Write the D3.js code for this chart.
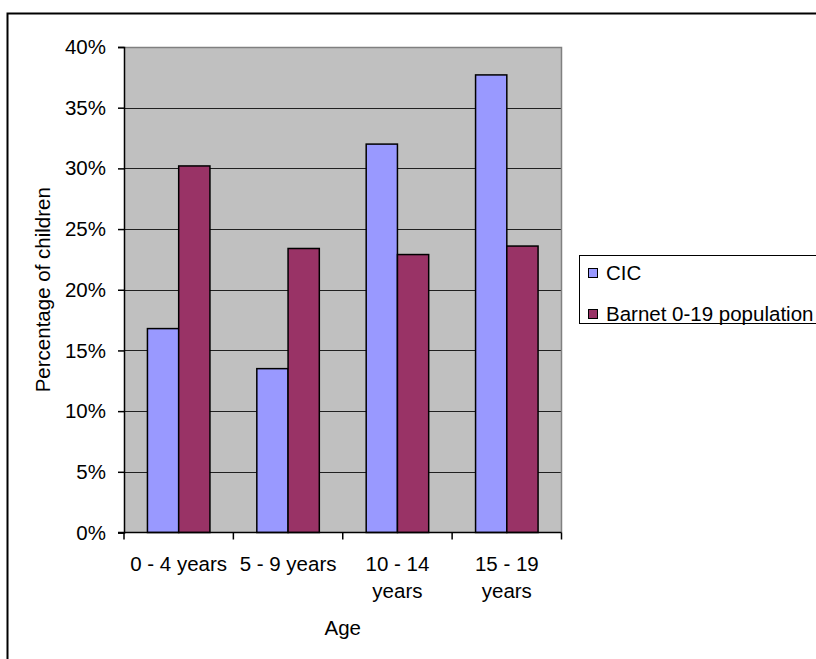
<!DOCTYPE html>
<html>
<head>
<meta charset="utf-8">
<script src="https://cdn.jsdelivr.net/npm/d3@7"></script>
<style>
  html, body { margin: 0; padding: 0; background: #fff; }
  svg { display: block; }
  text { font-family: "Liberation Sans", Arial, sans-serif; fill: #000; }
</style>
</head>
<body>
<svg id="chart" width="816" height="659"></svg>
<script>
// Age bands and the share of children in each
const categories = ["0 - 4 years", "5 - 9 years", "10 - 14 years", "15 - 19 years"];
const seriesNames = ["CIC", "Barnet 0-19 population"];
const cicValues = [16.8, 13.5, 32.0, 37.7];
const barnetValues = [30.2, 23.4, 22.9, 23.6];
const yTicks = [0, 5, 10, 15, 20, 25, 30, 35, 40];
const seriesColors = ["#9999FF", "#993366"];

const svg = d3.select("#chart");
const W = 816, H = 659;
const fontSize = 20.5;

// outer chart frame (runs off the right and bottom edges)
svg.append("rect")
  .attr("x", 7.5).attr("y", 13.5)
  .attr("width", W + 10).attr("height", H + 10)
  .attr("fill", "#fff").attr("stroke", "#000").attr("stroke-width", 2);

const plot = { left: 124, top: 47, right: 561.5, bottom: 532.5 };

const x0 = d3.scaleBand().domain(categories).range([plot.left, plot.right]).paddingInner(0).paddingOuter(0);
const y = d3.scaleLinear().domain([0, 40]).range([plot.bottom, plot.top]);

// plot background
svg.append("rect")
  .attr("x", plot.left).attr("y", plot.top)
  .attr("width", plot.right - plot.left).attr("height", plot.bottom - plot.top)
  .attr("fill", "#C0C0C0");

// horizontal gridlines
svg.append("g").selectAll("line")
  .data(yTicks.filter(d => d > 0))
  .join("line")
  .attr("x1", plot.left).attr("x2", plot.right)
  .attr("y1", d => Math.round(y(d)) + 0.5).attr("y2", d => Math.round(y(d)) + 0.5)
  .attr("stroke", "#202020").attr("stroke-width", 1.2);

// plot frame (top/right grey)
svg.append("path")
  .attr("d", `M${plot.left},${plot.top + 0.5}H${plot.right}V${plot.bottom}`)
  .attr("fill", "none").attr("stroke", "#808080").attr("stroke-width", 1.5);

// bars: two per group, Excel-style 150% gap
const rows = categories.map((c, i) => ({ cat: c, values: [cicValues[i], barnetValues[i]] }));
const bw = x0.bandwidth() / 3.5;
const x1 = d3.scaleBand().domain(seriesNames).range([0.75 * bw, 2.75 * bw]);

const groups = svg.append("g").selectAll("g")
  .data(rows).join("g")
  .attr("transform", d => `translate(${x0(d.cat)},0)`);

groups.selectAll("rect")
  .data(d => d.values.map((v, j) => ({ name: seriesNames[j], v, j })))
  .join("rect")
  .attr("x", d => x1(d.name))
  .attr("y", d => y(d.v))
  .attr("width", x1.bandwidth())
  .attr("height", d => y(0) - y(d.v))
  .attr("fill", d => seriesColors[d.j])
  .attr("stroke", "#000").attr("stroke-width", 1.5);

// y axis
const yAxis = d3.axisLeft(y).tickValues(yTicks).tickFormat(d => d + "%").tickSize(6).tickPadding(12);
const gy = svg.append("g").attr("transform", `translate(${plot.left},0)`).call(yAxis);
gy.select(".domain").attr("stroke", "#000").attr("stroke-width", 1.5);
gy.selectAll(".tick line").attr("stroke", "#000").attr("stroke-width", 1.5);
gy.selectAll(".tick text").attr("font-size", fontSize).attr("font-family", "Liberation Sans, Arial, sans-serif").attr("fill", "#000");

// x axis with ticks at category boundaries
const gx = svg.append("g").attr("transform", `translate(0,${plot.bottom})`);
gx.append("line").attr("x1", plot.left - 6).attr("x2", plot.right)
  .attr("stroke", "#000").attr("stroke-width", 1.5);
const bounds = categories.map(c => x0(c)).concat([x0(categories[categories.length - 1]) + x0.bandwidth()]);
gx.selectAll("line.tk").data(bounds).join("line").attr("class", "tk")
  .attr("x1", d => d).attr("x2", d => d).attr("y1", 0).attr("y2", 7)
  .attr("stroke", "#000").attr("stroke-width", 1.5);

// category labels, wrapped to the band width
const labels = gx.selectAll("text.cat").data(categories).join("text").attr("class", "cat")
  .attr("x", d => x0(d) + x0.bandwidth() / 2)
  .attr("y", 38)
  .attr("text-anchor", "middle")
  .attr("font-size", fontSize);
labels.each(function (d) {
  const t = d3.select(this);
  const cx = x0(d) + x0.bandwidth() / 2;
  t.text(d);
  if (this.getComputedTextLength() > x0.bandwidth()) {
    const words = d.split(" ");
    const last = words.pop();
    t.text(null);
    t.append("tspan").attr("x", cx).attr("dy", 0).text(words.join(" "));
    t.append("tspan").attr("x", cx).attr("dy", 27).text(last);
  }
});

// axis titles
svg.append("text")
  .attr("x", (plot.left + plot.right) / 2).attr("y", 635)
  .attr("text-anchor", "middle").attr("font-size", fontSize).text("Age");
svg.append("text")
  .attr("transform", `translate(50,${(plot.top + plot.bottom) / 2}) rotate(-90)`)
  .attr("text-anchor", "middle").attr("font-size", fontSize).text("Percentage of children");

// legend
const legend = svg.append("g");
legend.append("rect")
  .attr("x", 579.5).attr("y", 255.5).attr("width", 240).attr("height", 68)
  .attr("fill", "#fff").attr("stroke", "#000").attr("stroke-width", 1);
const items = legend.selectAll("g.item").data(seriesNames).join("g").attr("class", "item")
  .attr("transform", (d, i) => `translate(588,${268 + i * 41})`);
items.append("rect")
  .attr("x", 0.5).attr("y", 0.5).attr("width", 9).attr("height", 9)
  .attr("fill", (d, i) => seriesColors[i]).attr("stroke", "#000").attr("stroke-width", 1);
items.append("text")
  .attr("x", 18).attr("y", 12).attr("font-size", fontSize).text(d => d);
</script>
</body>
</html>
